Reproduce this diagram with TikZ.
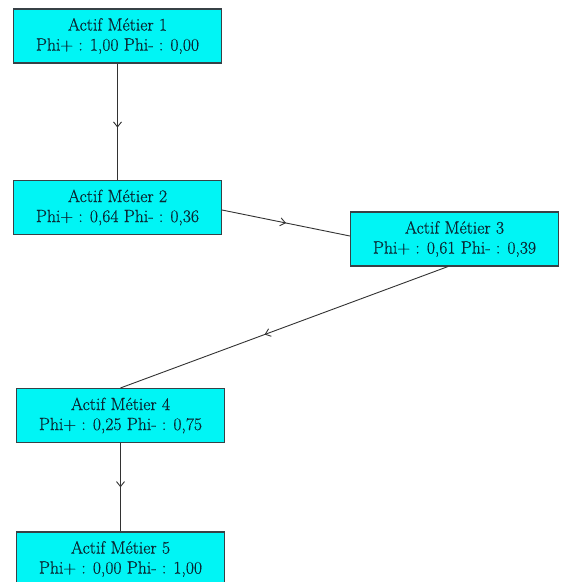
\documentclass[tikz,border=0pt]{standalone}
\usepackage{fontspec}
\newfontfamily\boxfont{Latin Modern Roman}[FakeBold=0.5]
\usetikzlibrary{arrows.meta,decorations.markings}
\definecolor{boxfill}{RGB}{0,245,245}
\definecolor{boxline}{RGB}{55,65,70}
\definecolor{txt}{RGB}{10,40,52}
\definecolor{edge}{RGB}{50,50,50}
\tikzset{
  actif/.style={draw=boxline, line width=1.1pt, fill=boxfill, rectangle,
    minimum width=208pt, minimum height=54pt, inner sep=0pt,
    align=center, text=txt, font=\boxfont\fontsize{17.6}{20}\selectfont},
  flow/.style={draw=edge, line width=0.9pt, postaction={decorate},
    decoration={markings, mark=at position #1 with {\arrow{Straight Barb[length=5pt,width=8pt,line width=0.9pt]}}}},
  flow/.default=0.5
}
\begin{document}
\begin{tikzpicture}[x=1pt,y=-1pt]
\useasboundingbox (0,0) rectangle (561,582);
\clip (0,0) rectangle (561,582);
\fill[white] (0,0) rectangle (561,582);
\node[actif] (b1) at (117.5,36) {Actif Métier 1\\Phi+ : 1,00 Phi- : 0,00};
\node[actif] (b2) at (117.5,207.5) {Actif Métier 2\\Phi+ : 0,64 Phi- : 0,36};
\node[actif] (b3) at (454.5,239) {Actif Métier 3\\Phi+ : 0,61 Phi- : 0,39};
\node[actif] (b4) at (120.5,415.5) {Actif Métier 4\\Phi+ : 0,25 Phi- : 0,75};
\node[actif] (b5) at (120.5,559) {Actif Métier 5\\Phi+ : 0,00 Phi- : 1,00};
\coordinate (e2) at ([yshift=-2.5pt]b2.east);
\coordinate (w3) at ([yshift=3pt]b3.west);
\coordinate (s3) at ([xshift=-6.5pt]b3.south);
\path[flow=0.55] (b1.south) -- (b2.north);
\path[flow] (e2) -- (w3);
\path[flow=0.56] (s3) -- (b4.north);
\path[flow] (b4.south) -- (b5.north);
\end{tikzpicture}
\end{document}
